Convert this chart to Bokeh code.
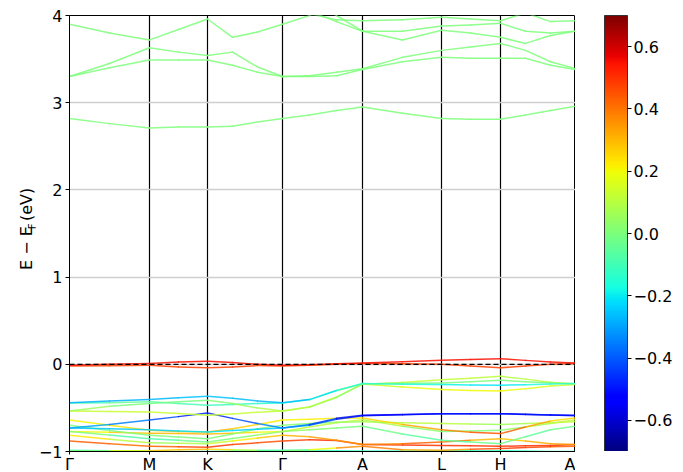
import numpy as np
from math import pi
from bokeh.plotting import figure
from bokeh.layouts import row
from bokeh.models import (ColumnDataSource, Range1d, FixedTicker, CustomJSTickFormatter,
                          LinearColorMapper, ColorBar, Span, Label)
from bokeh.transform import linear_cmap
from bokeh.embed import file_html
from bokeh.resources import INLINE

# ---------------- data ----------------
k = [0.00, 0.40, 0.80, 1.09, 1.38, 1.63, 1.88, 2.13, 2.40, 2.67, 2.93,
     3.33, 3.72, 4.01, 4.31, 4.56, 4.81, 5.06]
kpos = [0.00, 0.80, 1.38, 2.13, 2.93, 3.72, 4.31, 5.06]
knames = ["Γ", "M", "K", "Γ", "A", "L", "H", "A"]
yticks = [-1, 0, 1, 2, 3, 4]
cbar_ticks = [-0.6, -0.4, -0.2, 0.0, 0.2, 0.4, 0.6]

# conduction bands (uniform weight)
U1 = [2.82, 2.76, 2.71, 2.72, 2.72, 2.73, 2.78, 2.82, 2.86, 2.91, 2.95, 2.88, 2.82, 2.81, 2.81, 2.86, 2.91, 2.96]
U2 = [3.30, 3.45, 3.63, 3.58, 3.54, 3.58, 3.41, 3.30, 3.31, 3.35, 3.39, 3.52, 3.60, 3.64, 3.68, 3.60, 3.47, 3.39]
U3 = [3.30, 3.40, 3.49, 3.49, 3.49, 3.43, 3.35, 3.30, 3.30, 3.31, 3.38, 3.47, 3.52, 3.51, 3.51, 3.51, 3.43, 3.38]
U4 = [3.90, 3.80, 3.72, 3.84, 3.96, 3.75, 3.81, 3.90, 4.00, 4.10, 4.20, 4.20, 4.20, 4.20, 4.20, 4.20, 4.20, 4.20]
U5 = [4.30, 4.30, 4.30, 4.30, 4.30, 4.30, 4.25, 4.20, 4.02, 3.95, 3.94, 3.95, 3.98, 3.96, 3.94, 4.03, 3.93, 3.94]
U6 = [4.40, 4.40, 4.40, 4.40, 4.40, 4.40, 4.35, 4.30, 4.05, 3.93, 3.82, 3.82, 3.88, 3.89, 3.91, 3.82, 3.80, 3.82]
U7 = [4.50, 4.50, 4.50, 4.50, 4.50, 4.50, 4.45, 4.40, 4.15, 4.00, 3.82, 3.72, 3.83, 3.80, 3.75, 3.68, 3.77, 3.82]
upper_bands = [U1, U2, U3, U4, U5, U6, U7]
upper_weight = 0.0

# bands near the Fermi level and valence bands: energies and projected weights
F1 = [-0.01, 0.0, 0.01, 0.025, 0.035, 0.02, 0.0, -0.01, -0.005, 0.005, 0.015, 0.03, 0.046, 0.055, 0.065, 0.045, 0.025, 0.015]
F1w = [0.55] * 18
F2 = [-0.02, -0.018, -0.01, -0.03, -0.04, -0.03, -0.015, -0.02, -0.01, 0.0, 0.01, 0.005, 0.0, -0.02, -0.04, -0.02, 0.0, 0.01]
F2w = [0.48] * 18

B1 = [-0.44, -0.42, -0.405, -0.385, -0.367, -0.39, -0.42, -0.44, -0.405, -0.30, -0.22, -0.228, -0.233, -0.237, -0.24, -0.235, -0.226, -0.22]
B1w = [-0.28, -0.28, -0.28, -0.26, -0.25, -0.26, -0.27, -0.28, -0.25, -0.18, -0.12, -0.15, -0.18, -0.2, -0.22, -0.18, -0.14, -0.12]
B2 = [-0.535, -0.48, -0.45, -0.43, -0.413, -0.45, -0.50, -0.535, -0.49, -0.38, -0.225, -0.218, -0.214, -0.20, -0.183, -0.20, -0.215, -0.222]
B2w = [0.1, 0.02, -0.03, -0.02, 0.0, 0.03, 0.07, 0.1, 0.08, 0.05, 0.0, 0.0, 0.0, 0.0, 0.0, 0.0, 0.0, 0.0]
B3 = [-0.535, -0.54, -0.547, -0.565, -0.585, -0.57, -0.55, -0.535, -0.49, -0.375, -0.23, -0.21, -0.176, -0.16, -0.138, -0.17, -0.205, -0.225]
B3w = [0.13, 0.13, 0.13, 0.13, 0.13, 0.13, 0.13, 0.13, 0.13, 0.13, 0.1, 0.12, 0.13, 0.12, 0.1, 0.1, 0.1, 0.1]
B4 = [-0.445, -0.44, -0.43, -0.45, -0.47, -0.46, -0.45, -0.445, -0.405, -0.30, -0.225, -0.26, -0.29, -0.30, -0.306, -0.28, -0.25, -0.23]
B4w = [-0.12, -0.05, -0.02, -0.08, -0.1, -0.12, -0.14, -0.15, -0.1, 0.0, 0.1, 0.17, 0.2, 0.2, 0.2, 0.18, 0.15, 0.12]
B5 = [-0.73, -0.69, -0.64, -0.60, -0.558, -0.62, -0.68, -0.73, -0.69, -0.62, -0.585, -0.575, -0.566, -0.566, -0.566, -0.572, -0.58, -0.585]
B5w = [-0.28, -0.32, -0.38, -0.45, -0.5, -0.45, -0.38, -0.3, -0.38, -0.48, -0.52, -0.52, -0.5, -0.5, -0.5, -0.5, -0.5, -0.52]
B6 = [-0.73, -0.74, -0.752, -0.765, -0.776, -0.76, -0.745, -0.73, -0.70, -0.63, -0.59, -0.578, -0.568, -0.568, -0.568, -0.575, -0.582, -0.59]
B6w = [-0.25, -0.25, -0.25, -0.22, -0.2, -0.22, -0.25, -0.25, -0.35, -0.45, -0.5, -0.5, -0.5, -0.5, -0.5, -0.5, -0.5, -0.5]
B7 = [-0.64, -0.70, -0.757, -0.77, -0.776, -0.74, -0.69, -0.64, -0.63, -0.62, -0.615, -0.69, -0.75, -0.78, -0.795, -0.72, -0.65, -0.615]
B7w = [0.2, 0.22, 0.25, 0.28, 0.3, 0.28, 0.25, 0.2, 0.22, 0.22, 0.22, 0.3, 0.35, 0.42, 0.48, 0.38, 0.28, 0.22]
B8 = [-0.70, -0.76, -0.815, -0.835, -0.853, -0.80, -0.74, -0.70, -0.68, -0.665, -0.66, -0.67, -0.68, -0.685, -0.69, -0.68, -0.67, -0.66]
B8w = [0.0, 0.0, 0.0, 0.0, 0.0, 0.02, 0.03, 0.0, 0.03, 0.05, 0.05, 0.1, 0.12, 0.08, 0.05, 0.08, 0.1, 0.12]
B9 = [-0.77, -0.81, -0.853, -0.87, -0.89, -0.85, -0.81, -0.77, -0.75, -0.73, -0.71, -0.80, -0.87, -0.89, -0.91, -0.83, -0.75, -0.71]
B9w = [0.05, -0.05, -0.1, -0.05, 0.0, 0.0, 0.03, 0.05, 0.03, 0.0, 0.0, -0.05, -0.08, -0.05, 0.0, -0.05, -0.05, 0.0]
B10 = [-0.77, -0.78, -0.79, -0.795, -0.80, -0.79, -0.78, -0.77, -0.72, -0.67, -0.635, -0.71, -0.77, -0.765, -0.757, -0.72, -0.68, -0.635]
B10w = [0.15, 0.25, 0.3, 0.3, 0.3, 0.28, 0.22, 0.15, 0.1, 0.1, 0.12, 0.05, 0.0, 0.0, 0.0, 0.05, 0.1, 0.12]
B11 = [-0.815, -0.86, -0.90, -0.905, -0.91, -0.88, -0.845, -0.815, -0.83, -0.87, -0.92, -0.91, -0.89, -0.87, -0.853, -0.88, -0.91, -0.92]
B11w = [0.3, 0.15, 0.05, 0.08, 0.1, 0.18, 0.25, 0.3, 0.32, 0.35, 0.35, 0.4, 0.45, 0.35, 0.25, 0.3, 0.33, 0.35]
B12 = [-0.88, -0.91, -0.94, -0.945, -0.95, -0.92, -0.90, -0.88, -0.865, -0.875, -0.92, -0.925, -0.93, -0.935, -0.94, -0.935, -0.93, -0.92]
B12w = [0.45, 0.42, 0.4, 0.45, 0.5, 0.48, 0.46, 0.45, 0.5, 0.52, 0.5, 0.5, 0.5, 0.5, 0.5, 0.5, 0.5, 0.5]
B13 = [-0.99, -0.99, -0.99, -0.98, -0.975, -0.98, -0.985, -0.99, -0.98, -0.96, -0.94, -0.98, -0.985, -0.975, -0.967, -0.955, -0.945, -0.94]
B13w = [-0.1, 0.1, 0.25, 0.3, 0.3, 0.2, 0.0, -0.1, 0.1, 0.3, 0.42, 0.35, 0.3, 0.4, 0.5, 0.48, 0.45, 0.42]
B14 = [-0.985, -0.99, -0.995, -1.0, -1.0, -0.995, -0.99, -0.985, -0.985, -0.99, -0.995, -0.995, -0.99, -0.99, -0.99, -0.995, -1.0, -1.0]
B14w = [-0.12] * 18

lower_bands = [(B14, B14w), (B13, B13w), (B12, B12w), (B11, B11w), (B10, B10w), (B9, B9w),
               (B8, B8w), (B7, B7w), (B6, B6w), (B5, B5w), (B4, B4w), (B3, B3w),
               (B2, B2w), (B1, B1w), (F2, F2w), (F1, F1w)]

# ---------------- colormap (matplotlib "jet") ----------------
def jet_palette(n=256):
    t = np.linspace(0, 1, n)
    r = np.interp(t, [0, 0.35, 0.66, 0.89, 1], [0, 0, 1, 1, 0.5])
    g = np.interp(t, [0, 0.125, 0.375, 0.64, 0.91, 1], [0, 0, 1, 1, 0, 0])
    b = np.interp(t, [0, 0.11, 0.34, 0.65, 1], [0.5, 1, 1, 0, 0])
    return ["#%02x%02x%02x" % (int(round(255 * a)), int(round(255 * c)), int(round(255 * d)))
            for a, c, d in zip(r, g, b)]

JET = jet_palette()
VMIN, VMAX = -0.7, 0.7
FONT = "DejaVu Sans"

# ---------------- segments ----------------
x0, y0, x1, y1, ww = [], [], [], [], []
for e in upper_bands:
    for i in range(len(k) - 1):
        x0.append(k[i]); x1.append(k[i + 1]); y0.append(e[i]); y1.append(e[i + 1])
        ww.append(upper_weight)
for e, w in lower_bands:
    for i in range(len(k) - 1):
        x0.append(k[i]); x1.append(k[i + 1]); y0.append(e[i]); y1.append(e[i + 1])
        ww.append(0.5 * (w[i] + w[i + 1]))
src = ColumnDataSource(dict(x0=x0, y0=y0, x1=x1, y1=y1, w=ww))

# ---------------- y-axis title panel ----------------
pl = figure(width=42, height=472, x_range=Range1d(0, 42), y_range=Range1d(0, 472),
            x_axis_location=None, y_axis_location=None, toolbar_location=None,
            output_backend="svg", min_border=0, margin=(0, -7, 0, 0))
pl.outline_line_color = None
pl.background_fill_alpha = 0
pl.border_fill_alpha = 0
pl.grid.visible = False
for txt, xx, yy, fs in [("E \u2212 E", 26, 194, "16px"), ("F", 32, 238.5, "10px"), ("(eV)", 26, 247.5, "16px")]:
    pl.add_layout(Label(x=xx, y=yy, angle=pi / 2, text=txt, text_font=FONT, text_font_size=fs,
                        text_color="black", text_align="left", text_baseline="alphabetic"))

# ---------------- main panel ----------------
p = figure(frame_width=506, frame_height=436,
           x_range=Range1d(kpos[0], kpos[-1]), y_range=Range1d(yticks[0], yticks[-1]),
           output_backend="svg", toolbar_location=None,
           min_border_left=31, min_border_top=15, min_border_bottom=0, min_border_right=0)
p.background_fill_color = "white"
p.border_fill_color = "white"
p.outline_line_color = "black"
p.outline_line_width = 1

p.segment(x0="x0", y0="y0", x1="x1", y1="y1", source=src,
          line_color=linear_cmap("w", JET, VMIN, VMAX), line_width=1.5,
          line_alpha=0.85, line_cap="round")

p.add_layout(Span(location=0, dimension="width", line_color="black",
                  line_dash="5 3", line_width=1.3))

p.xaxis.ticker = FixedTicker(ticks=kpos)
p.xaxis.formatter = CustomJSTickFormatter(args=dict(kpos=kpos, names=knames), code="""
let bi = 0, bd = 1e9;
for (let j = 0; j < kpos.length; j++) { const d = Math.abs(kpos[j] - tick); if (d < bd) { bd = d; bi = j; } }
return names[bi];
""")
p.yaxis.ticker = FixedTicker(ticks=yticks)
p.yaxis.formatter = CustomJSTickFormatter(code="""
return tick < 0 ? '\u2212' + Math.abs(tick) : String(tick);
""")
for ax in (p.xaxis[0], p.yaxis[0]):
    ax.major_label_text_font = FONT
    ax.major_label_text_font_size = "16px"
    ax.major_label_text_color = "black"
    ax.major_tick_out = 4
    ax.major_tick_in = 0
    ax.minor_tick_out = 0
    ax.minor_tick_in = 0
    ax.major_tick_line_color = "black"
    ax.axis_line_color = "black"
    ax.major_label_standoff = 3
p.xaxis.major_tick_out = 3
p.xaxis.major_label_standoff = 0

p.xgrid.ticker = FixedTicker(ticks=kpos)
p.xgrid.grid_line_color = "black"
p.xgrid.grid_line_width = 1.2
p.ygrid.ticker = FixedTicker(ticks=yticks)
p.ygrid.grid_line_color = "#cfcfcf"
p.ygrid.grid_line_width = 1.3

# ---------------- colour bar panel ----------------
pc = figure(frame_width=29, frame_height=436, x_axis_location=None, y_axis_location=None,
            toolbar_location=None, output_backend="svg",
            min_border_left=0, min_border_right=0, min_border_top=15, min_border_bottom=0)
pc.outline_line_color = None
pc.grid.visible = False
mapper = LinearColorMapper(palette=JET, low=VMIN, high=VMAX)
cb = ColorBar(color_mapper=mapper, width=23, height=436, padding=0, margin=0,
              ticker=FixedTicker(ticks=cbar_ticks),
              formatter=CustomJSTickFormatter(code="return (tick < -1e-9 ? '\u2212' : '') + Math.abs(tick).toFixed(1);"),
              major_label_text_font=FONT, major_label_text_font_size="16px",
              major_label_text_color="black", major_tick_out=4, major_tick_in=0,
              major_tick_line_color="black", minor_tick_line_color=None,
              bar_line_color="#333333", bar_line_width=1, label_standoff=2,
              background_fill_color="white", border_line_color=None)
pc.add_layout(cb, "right")

layout = row(pl, p, pc, spacing=0)
open("out.html", "w").write(file_html(layout, INLINE))
